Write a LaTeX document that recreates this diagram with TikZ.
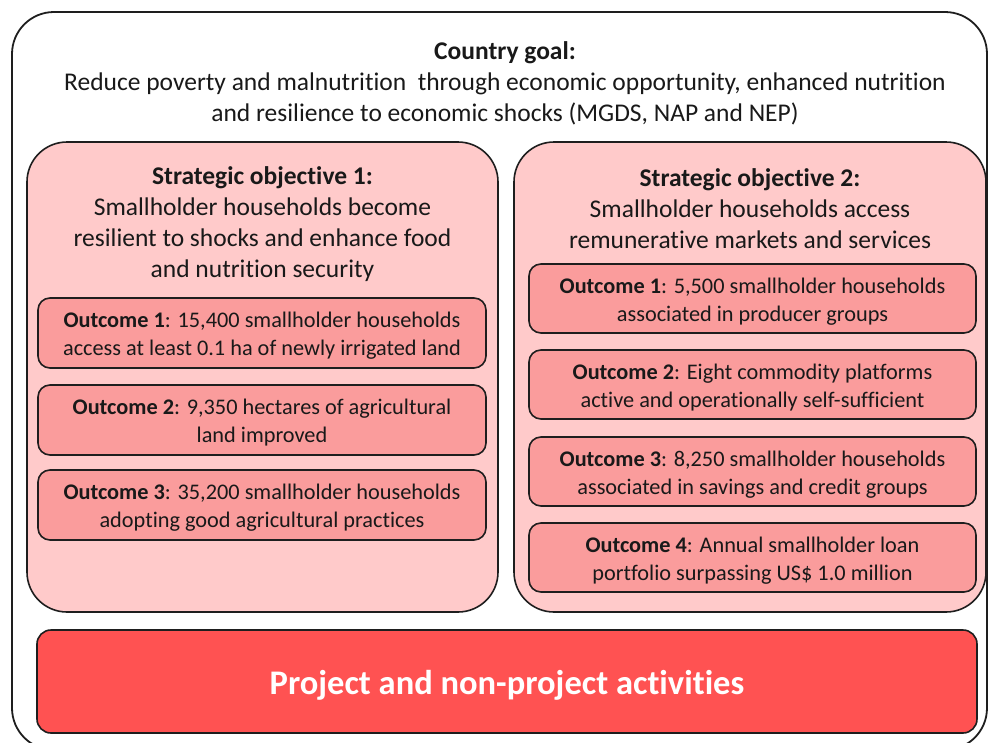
\documentclass[tikz,border=0pt]{standalone}
\usepackage{fontspec}
\setmainfont{Carlito}[RawFeature={-liga}]
\definecolor{framegray}{HTML}{1E1E1E}
\definecolor{sopink}{HTML}{FFCACA}
\definecolor{outpink}{HTML}{FA9C9C}
\definecolor{actred}{HTML}{FF5252}
\begin{document}
\begin{tikzpicture}[x=1pt,y=-1pt,
  outerbox/.style={draw=framegray, line width=1.8pt, fill=white, rounded corners=42pt,
    minimum width=975pt, minimum height=738pt, inner sep=0pt},
  sobox/.style={draw=framegray, line width=1.6pt, fill=sopink, rounded corners=40pt,
    minimum width=471pt, minimum height=470pt, inner sep=0pt},
  outbox/.style={draw=framegray, line width=1.6pt, fill=outpink, rounded corners=12pt,
    minimum width=448pt, minimum height=70pt, inner sep=0pt},
  actbox/.style={draw=framegray, line width=1.6pt, fill=actred, rounded corners=14pt,
    minimum width=940pt, minimum height=103pt, inner sep=0pt},
  headtext/.style={align=center, text=black!90, yshift=-2pt, font=\fontsize{25.5}{31}\selectfont},
  outtext/.style={align=center, text=black!90, yshift=-3pt, font=\fontsize{22.3}{28}\selectfont},
  acttext/.style={align=center, text=white, yshift=-4pt, font=\fontsize{34.5}{40}\selectfont\bfseries}
]
\useasboundingbox (0,0) rectangle (988,742);
\clip (0,0) rectangle (988,742);

% outer frame with the country goal
\node[outerbox] (frame) at (499.5,381) {};
\node[headtext] (goal) at (505,81)
  {\textbf{Country goal:}\\
   Reduce poverty and malnutrition\ \ through economic opportunity, enhanced nutrition\\
   and resilience to economic shocks (MGDS, NAP and NEP)};

% strategic objective 1
\node[sobox] (so1) at (262.5,377) {};
\node[headtext] (so1t) at (262.5,222)
  {\textbf{Strategic objective 1:}\\
   Smallholder households become\\
   resilient to shocks and enhance food\\
   and nutrition security};
\node[outbox] (l1) at (262,333) {};
\node[outtext] at (l1) {\textbf{Outcome 1}: 15,400 smallholder households\\access at least 0.1 ha of newly irrigated land};
\node[outbox] (l2) at (262,420) {};
\node[outtext] at (l2) {\textbf{Outcome 2}: 9,350 hectares of agricultural\\land improved};
\node[outbox] (l3) at (262,505) {};
\node[outtext] at (l3) {\textbf{Outcome 3}: 35,200 smallholder households\\adopting good agricultural practices};

% strategic objective 2
\node[sobox, minimum width=472pt] (so2) at (750,377) {};
\node[headtext] (so2t) at (750,207)
  {\textbf{Strategic objective 2:}\\
   Smallholder households access\\
   remunerative markets and services};
\node[outbox, minimum width=447pt, minimum height=69pt] (r1) at (752.5,298.5) {};
\node[outtext] at (r1) {\textbf{Outcome 1}: 5,500 smallholder households\\associated in producer groups};
\node[outbox, minimum width=447pt, minimum height=69pt] (r2) at (752.5,384.5) {};
\node[outtext] at (r2) {\textbf{Outcome 2}: Eight commodity platforms\\active and operationally self-sufficient};
\node[outbox, minimum width=447pt, minimum height=69pt] (r3) at (752.5,471.5) {};
\node[outtext] at (r3) {\textbf{Outcome 3}: 8,250 smallholder households\\associated in savings and credit groups};
\node[outbox, minimum width=447pt, minimum height=69pt] (r4) at (752.5,557.5) {};
\node[outtext] at (r4) {\textbf{Outcome 4}: Annual smallholder loan\\portfolio surpassing US\$ 1.0 million};

% activities bar
\node[actbox] (act) at (507,681.5) {};
\node[acttext] at (act) {Project and non-project activities};
\end{tikzpicture}
\end{document}
